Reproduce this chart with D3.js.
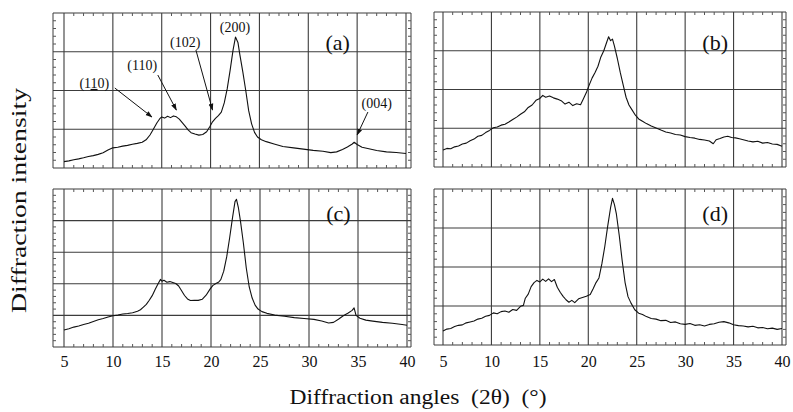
<!DOCTYPE html>
<html><head><meta charset="utf-8">
<script src="https://cdn.jsdelivr.net/npm/d3@7"></script>
<style>body{margin:0;background:#fff} svg{display:block}</style>
</head><body><svg id="c" width="793" height="412"></svg>
<script>
// ---------- DATA ----------
const angleTicks = [5, 10, 15, 20, 25, 30, 35, 40];
const panelNames = ["(a)", "(b)", "(c)", "(d)"];
const xAxisTitle = "Diffraction angles  (2θ)  (°)";
const yAxisTitle = "Diffraction intensity";

const anglesA = [5.0,5.5,6.0,6.5,7.0,7.5,8.0,8.5,9.0,9.5,10.0,10.5,11.0,11.5,12.0,12.5,13.0,13.4,13.8,14.1,14.5,14.8,15.0,15.3,15.6,15.9,16.2,16.5,16.8,17.1,17.4,17.7,18.0,18.4,18.8,19.2,19.6,19.9,20.2,20.5,20.8,21.1,21.4,21.7,22.0,22.3,22.55,22.8,23.0,23.3,23.6,23.9,24.2,24.5,24.8,25.2,25.7,26.5,27.4,28.5,29.5,30.5,31.5,32.3,32.9,33.5,34.0,34.5,34.7,35.0,35.5,36.2,37.0,38.0,39.0,40.0];
const intensityA = [4.1,4.6,5.3,5.9,6.6,7.4,8.0,8.8,9.9,11.6,13.0,13.4,14.1,14.6,15.3,15.9,16.6,18.2,21.3,24.5,29.0,31.8,32.9,32.2,33.4,32.5,33.6,33.0,31.5,29.3,27.0,24.6,22.8,21.9,21.2,21.6,23.4,26.5,29.8,32.0,33.8,36.0,42.0,51.0,63.0,76.0,84.5,81.0,73.0,62.0,50.0,37.0,28.5,23.0,20.0,18.2,17.0,15.5,13.9,13.0,12.2,11.4,10.8,9.9,10.4,12.0,13.6,15.5,16.6,15.2,13.4,12.4,11.3,10.4,10.0,9.4];

const anglesB = [5.0,5.4,5.8,6.2,6.6,7.0,7.4,7.8,8.2,8.6,9.0,9.4,9.8,10.2,10.6,11.0,11.4,11.8,12.2,12.6,13.0,13.4,13.8,14.2,14.6,15.0,15.3,15.6,16.0,16.4,16.8,17.2,17.6,18.0,18.4,18.8,19.2,19.5,19.8,20.1,20.4,20.7,21.0,21.3,21.6,21.9,22.1,22.3,22.5,22.7,23.0,23.3,23.6,23.9,24.2,24.5,24.8,25.2,25.6,26.0,26.5,27.0,27.5,28.0,28.5,29.0,29.5,30.0,30.5,31.0,31.5,32.0,32.5,32.9,33.2,33.6,34.0,34.4,34.8,35.2,35.6,36.0,36.5,37.0,37.5,38.0,38.5,39.0,39.5,40.0];
const intensityB = [11.0,12.0,11.8,13.0,13.6,14.8,15.4,16.9,18.0,19.8,20.4,22.2,23.6,25.3,25.8,27.0,27.6,29.0,30.6,32.2,34.0,35.6,38.4,40.0,43.0,44.2,46.2,45.0,45.8,44.6,43.8,42.8,40.6,41.8,39.6,40.8,40.2,44.0,48.0,53.0,57.5,61.0,65.0,71.0,75.0,80.5,84.0,81.5,82.5,78.0,70.0,61.0,53.0,45.0,40.0,37.0,34.0,31.0,29.5,28.0,26.4,25.2,23.8,22.6,21.9,21.0,20.6,19.6,19.0,18.6,17.8,17.4,16.8,15.0,17.6,18.4,19.4,19.8,19.0,18.8,18.2,17.6,16.8,16.2,16.6,15.4,15.8,14.8,14.6,13.4];

const anglesC = [5.0,5.5,6.0,6.5,7.0,7.5,8.0,8.5,9.0,9.5,10.0,10.5,11.0,11.5,12.0,12.5,12.8,13.1,13.4,13.7,14.0,14.3,14.6,14.85,15.0,15.2,15.5,15.8,16.1,16.4,16.7,17.0,17.3,17.6,17.9,18.3,18.7,19.1,19.5,19.9,20.2,20.5,20.8,21.0,21.3,21.6,21.9,22.2,22.45,22.6,22.8,23.0,23.3,23.6,23.9,24.2,24.5,24.8,25.2,25.7,26.5,27.5,28.5,29.5,30.5,31.3,32.0,32.5,33.0,33.5,34.0,34.4,34.6,34.8,35.2,35.8,36.5,37.5,38.5,39.5,40.0];
const intensityC = [10.8,11.6,12.6,13.3,14.2,15.0,16.2,17.2,18.0,19.0,19.8,20.2,20.9,21.2,21.7,22.6,23.6,25.2,27.0,29.6,32.5,36.4,40.0,42.8,41.6,42.2,41.0,41.4,40.8,40.2,38.6,35.6,32.6,30.4,29.4,29.6,29.5,30.2,32.8,36.6,39.0,40.2,41.2,42.6,48.0,57.0,69.0,82.0,92.0,93.5,88.0,80.0,66.0,50.0,38.0,31.0,26.5,24.0,22.4,21.3,20.2,19.5,18.6,18.0,17.5,16.5,15.2,15.6,17.6,19.8,21.5,23.2,24.8,20.0,18.2,17.0,16.4,15.6,15.0,14.2,13.8];

const anglesD = [5.0,5.4,5.8,6.2,6.6,7.0,7.4,7.8,8.2,8.6,9.0,9.4,9.8,10.2,10.6,11.0,11.4,11.8,12.2,12.6,13.0,13.3,13.5,13.8,14.1,14.4,14.7,15.0,15.3,15.6,15.9,16.2,16.5,16.8,17.1,17.4,17.7,18.0,18.3,18.6,19.0,19.4,19.8,20.2,20.5,20.8,21.1,21.4,21.7,22.0,22.3,22.5,22.7,22.9,23.2,23.5,23.8,24.1,24.4,24.8,25.2,25.6,26.0,26.5,27.0,27.5,28.0,28.5,29.0,29.5,30.0,30.5,31.0,31.5,32.0,32.5,33.0,33.5,34.0,34.5,35.0,35.5,36.0,36.5,37.0,37.5,38.0,38.5,39.0,39.5,40.0];
const intensityD = [9.0,10.2,10.6,11.8,12.6,12.9,14.2,14.8,15.4,16.6,17.2,18.4,19.0,20.6,20.0,21.4,21.8,21.0,22.8,22.2,24.8,25.4,30.0,32.6,37.4,40.0,41.4,40.4,42.2,40.8,42.4,40.6,42.0,37.0,33.8,31.2,29.0,27.4,28.6,27.2,29.6,30.4,31.2,32.4,36.0,40.0,43.0,52.0,63.0,76.0,88.0,94.0,90.0,84.0,70.0,54.0,40.0,31.0,27.0,22.6,20.4,19.6,18.2,17.0,16.6,15.6,15.8,14.4,14.8,13.6,13.2,13.8,12.6,13.0,12.2,13.2,13.6,14.6,15.0,14.2,13.0,12.4,12.2,11.6,12.0,11.0,11.2,10.4,10.8,10.0,10.6];

// peak annotations for panel (a)
const peakLabels = ["(110)", "(110)", "(102)", "(200)", "(004)"];
const peakLabelAngle = [8.1, 13.0, 17.4, 22.5, 37.0];
const peakLabelIntensity = [54.8, 66.5, 81.3, 91.0, 41.9];
const arrowFromAngle = [10.2, 14.6, 18.5, null, 36.1];
const arrowFromIntensity = [51.6, 60.0, 76.1, null, 36.1];
const arrowToAngle = [14.0, 16.5, 20.2, null, 35.0];
const arrowToIntensity = [32.9, 37.4, 37.4, null, 21.3];

// ---------- LAYOUT ----------
const svg = d3.select("#c");
const font = "'Liberation Serif','Times New Roman',serif";
const gridColor = "#3c3c3c";

const panels = [
  {name: panelNames[0], ang: anglesA, val: intensityA, L: 53, R: 411, T: 13, B: 168, x0: 64, x1: 406, hDiv: 4, labelA: 33.0, labelV: 81},
  {name: panelNames[1], ang: anglesB, val: intensityB, L: 434, R: 786, T: 12, B: 167, x0: 443, x1: 782, hDiv: 4, labelA: 33.1, labelV: 80.6},
  {name: panelNames[2], ang: anglesC, val: intensityC, L: 53, R: 411, T: 189, B: 347, x0: 64, x1: 407, hDiv: 5, labelA: 33.0, labelV: 84.8, axis: true},
  {name: panelNames[3], ang: anglesD, val: intensityD, L: 434, R: 786, T: 189, B: 345, x0: 443, x1: 782, hDiv: 4, labelA: 33.1, labelV: 84.6, axis: true}
];

svg.append("defs").append("marker")
  .attr("id", "arr").attr("viewBox", "0 0 10 10").attr("refX", 9).attr("refY", 5)
  .attr("markerWidth", 7).attr("markerHeight", 7).attr("orient", "auto")
  .append("path").attr("d", "M0,1.5 L10,5 L0,8.5 Z").attr("fill", "#111");

panels.forEach((p, pi) => {
  const g = svg.append("g");
  const x = d3.scaleLinear().domain([5, 40]).range([p.x0, p.x1]);
  const y = d3.scaleLinear().domain([0, 100]).range([p.B, p.T]);
  const hVals = d3.range(0, 100.001, 100 / p.hDiv);

  g.selectAll(".h").data(hVals).join("line")
    .attr("x1", p.L).attr("x2", p.R)
    .attr("y1", d => y(d)).attr("y2", d => y(d))
    .attr("stroke", gridColor).attr("stroke-width", 1.1);
  [p.L, p.R].forEach(xx => g.append("line")
    .attr("x1", xx).attr("x2", xx).attr("y1", p.T).attr("y2", p.B)
    .attr("stroke", gridColor).attr("stroke-width", 1));
  g.selectAll(".v").data(angleTicks).join("line")
    .attr("x1", d => x(d)).attr("x2", d => x(d))
    .attr("y1", p.T).attr("y2", p.B)
    .attr("stroke", gridColor).attr("stroke-width", 1.1);
  const minorX = d3.range(5, 40.001, 1).filter(d => d % 5 !== 0);
  minorX.forEach(d => {
    g.append("line").attr("x1", x(d)).attr("x2", x(d)).attr("y1", p.T).attr("y2", p.T + 3)
      .attr("stroke", "#555").attr("stroke-width", 1);
    g.append("line").attr("x1", x(d)).attr("x2", x(d)).attr("y1", p.B).attr("y2", p.B - 3)
      .attr("stroke", "#555").attr("stroke-width", 1);
  });
  const step = 100 / p.hDiv;
  const minorY = d3.range(0, 100.001, step / 5).filter(d => Math.abs(d / step - Math.round(d / step)) > 0.01);
  minorY.forEach(d => {
    g.append("line").attr("x1", p.L).attr("x2", p.L + 3).attr("y1", y(d)).attr("y2", y(d))
      .attr("stroke", "#555").attr("stroke-width", 1);
    g.append("line").attr("x1", p.R).attr("x2", p.R - 3).attr("y1", y(d)).attr("y2", y(d))
      .attr("stroke", "#555").attr("stroke-width", 1);
  });

  const pts = p.ang.map((a, i) => [a, p.val[i]]);
  g.append("path").datum(pts)
    .attr("d", d3.line().x(d => x(d[0])).y(d => y(d[1])))
    .attr("fill", "none").attr("stroke", "#111").attr("stroke-width", 1.1)
    .attr("stroke-linejoin", "round");

  g.append("text").attr("x", x(p.labelA)).attr("y", y(p.labelV)).attr("dy", "0.35em")
    .attr("text-anchor", "middle").attr("font-family", font).attr("font-size", 22)
    .attr("fill", "#111").text(p.name);

  if (p.axis) {
    const ax = g.append("g").attr("transform", `translate(0,356)`)
      .call(d3.axisBottom(x).tickValues(angleTicks).tickSize(0).tickPadding(0).tickFormat(d3.format("d")));
    ax.select(".domain").remove();
    ax.selectAll("text").attr("font-family", font).attr("font-size", 16).attr("fill", "#111");
  }

  if (pi === 0) {
    peakLabels.forEach((lab, i) => {
      const t = g.append("text").attr("x", x(peakLabelAngle[i])).attr("y", y(peakLabelIntensity[i]))
        .attr("dy", "0.35em").attr("text-anchor", "middle")
        .attr("font-family", font).attr("font-size", 14).attr("fill", "#111");
      if (i === 0) {
        t.append("tspan").text("(1");
        t.append("tspan").style("text-decoration", "underline").text("1");
        t.append("tspan").text("0)");
      } else {
        t.text(lab);
      }
      if (arrowFromAngle[i] !== null) {
        g.append("line")
          .attr("x1", x(arrowFromAngle[i])).attr("y1", y(arrowFromIntensity[i]))
          .attr("x2", x(arrowToAngle[i])).attr("y2", y(arrowToIntensity[i]))
          .attr("stroke", "#111").attr("stroke-width", 1).attr("marker-end", "url(#arr)");
      }
    });
  }
});

svg.append("text").attr("x", 418).attr("y", 404).attr("text-anchor", "middle")
  .attr("font-family", font).attr("font-size", 20).attr("fill", "#111")
  .style("white-space", "pre")
  .attr("textLength", 257).attr("lengthAdjust", "spacingAndGlyphs")
  .text(xAxisTitle);
svg.append("text").attr("transform", "translate(26,200.5) rotate(-90)").attr("text-anchor", "middle")
  .attr("font-family", font).attr("font-size", 20).attr("fill", "#111")
  .attr("textLength", 225).attr("lengthAdjust", "spacingAndGlyphs")
  .text(yAxisTitle);
</script>
</body></html>
